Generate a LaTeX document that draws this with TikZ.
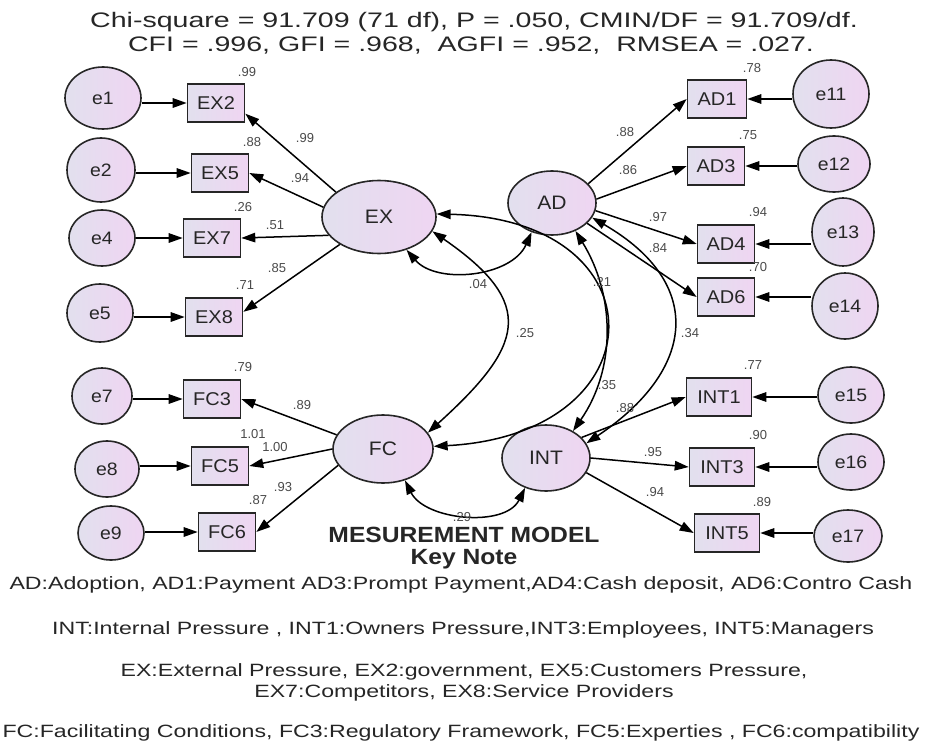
\documentclass[tikz,border=0pt]{standalone}
\usepackage{fontspec}
\usepackage{graphicx}
\setmainfont{Liberation Sans}
\newfontfamily\nodefont[FakeStretch=1.08]{Liberation Sans}
\newfontfamily\bigfont[FakeStretch=1.12]{Liberation Sans}
\newfontfamily\widefont[FakeStretch=1.3]{Liberation Sans}
\newfontfamily\titlefont[FakeStretch=1.36]{Liberation Sans}
\usetikzlibrary{arrows.meta,shapes.geometric}
\definecolor{fillL}{HTML}{E2E0EE}
\definecolor{fillR}{HTML}{EFD5F2}
\definecolor{numgray}{HTML}{4A4A4A}
\definecolor{txt}{HTML}{262626}
\begin{document}
\begin{tikzpicture}[x=1pt,y=-1pt,
  shaded/.style={draw=black!85, line width=1.6pt, left color=fillL, right color=fillR, inner sep=0pt, text=txt},
  lat/.style={shaded, ellipse, font=\nodefont\fontsize{19.5}{21}\selectfont},
  err/.style={shaded, ellipse, font=\nodefont\fontsize{18}{20}\selectfont},
  obs/.style={shaded, rectangle, minimum width=57pt, minimum height=38pt, font=\nodefont\fontsize{18.5}{20}\selectfont},
  num/.style={font=\fontsize{13}{14}\selectfont, text=numgray, inner sep=0pt},
  arr/.style={line width=1.5pt, -{Triangle[length=14pt,width=9.5pt]}},
  cov/.style={line width=1.5pt, {Triangle[length=14pt,width=9.5pt]}-{Triangle[length=14pt,width=9.5pt]}},
  ttl/.style={font=\titlefont\fontsize{21}{23}\selectfont, text=txt, inner sep=0pt},
  key/.style={font=\widefont\fontsize{17.8}{21}\selectfont, text=txt, inner sep=0pt, align=center},
  big/.style={font=\bigfont\bfseries\fontsize{22}{22.5}\selectfont, text=txt, inner sep=0pt, align=center}
]
\useasboundingbox (0,0) rectangle (925,749);
\fill[white] (0,0) rectangle (925,749);

% title
\node[ttl] (t1) at (474,22) {Chi-square = 91.709 (71 df), P = .050, CMIN/DF = 91.709/df.};
\node[ttl] (t2) at (471,46) {CFI = .996, GFI = .968,\ \ AGFI = .952,\ \ RMSEA = .027.};

% latent variables
\node[lat, minimum width=114pt, minimum height=73pt] (EX) at (379,217) {EX};
\node[lat, minimum width=88pt, minimum height=64pt] (AD) at (552,203) {AD};
\node[lat, minimum width=100pt, minimum height=68pt] (FC) at (383,449) {FC};
\node[lat, minimum width=88pt, minimum height=66pt] (INT) at (546,458) {INT};

% observed
\node[obs] (EX2) at (216,103) {EX2};
\node[obs] (EX5) at (220,173) {EX5};
\node[obs] (EX7) at (212,238) {EX7};
\node[obs] (EX8) at (214,317) {EX8};
\node[obs] (FC3) at (212,399) {FC3};
\node[obs] (FC5) at (220,466) {FC5};
\node[obs] (FC6) at (227,532) {FC6};
\node[obs, minimum width=59pt] (AD1) at (717,99) {AD1};
\node[obs] (AD3) at (716,166) {AD3};
\node[obs] (AD4) at (726,244) {AD4};
\node[obs] (AD6) at (726,297) {AD6};
\node[obs, minimum width=65pt] (INT1) at (719,397) {INT1};
\node[obs, minimum width=65pt] (INT3) at (722,467) {INT3};
\node[obs, minimum width=65pt] (INT5) at (727,533) {INT5};

% errors
\node[err, minimum width=76pt, minimum height=62pt] (e1) at (103,98) {e1};
\node[err, minimum width=68pt, minimum height=64pt] (e2) at (101,170) {e2};
\node[err, minimum width=66pt, minimum height=56pt] (e4) at (102,238) {e4};
\node[err, minimum width=66pt, minimum height=58pt] (e5) at (100,313) {e5};
\node[err, minimum width=60pt, minimum height=56pt] (e7) at (102,396) {e7};
\node[err, minimum width=64pt, minimum height=56pt] (e8) at (107,469) {e8};
\node[err, minimum width=66pt, minimum height=54pt] (e9) at (111,533) {e9};
\node[err, minimum width=76pt, minimum height=68pt] (e11) at (831,94) {e11};
\node[err, minimum width=72pt, minimum height=56pt] (e12) at (834,164) {e12};
\node[err, minimum width=62pt, minimum height=68pt] (e13) at (843,232) {e13};
\node[err, minimum width=66pt, minimum height=66pt] (e14) at (845,306) {e14};
\node[err, minimum width=66pt, minimum height=56pt] (e15) at (851,395) {e15};
\node[err, minimum width=66pt, minimum height=56pt] (e16) at (851,462) {e16};
\node[err, minimum width=68pt, minimum height=52pt] (e17) at (848,536) {e17};

% error arrows
\draw[arr] (e1.east |- EX2) -- (EX2);
\draw[arr] (e2.east |- EX5) -- (EX5);
\draw[arr] (e4.east |- EX7) -- (EX7);
\draw[arr] (e5.east |- EX8) -- (EX8);
\draw[arr] (e7.east |- FC3) -- (FC3);
\draw[arr] (e8.east |- FC5) -- (FC5);
\draw[arr] (e9.east |- FC6) -- (FC6);
\draw[arr] (e11.west |- AD1) -- (AD1);
\draw[arr] (e12.west |- AD3) -- (AD3);
\draw[arr] (e13.west |- AD4) -- (AD4);
\draw[arr] (e14.west |- AD6) -- (AD6);
\draw[arr] (e15.west |- INT1) -- (INT1);
\draw[arr] (e16.west |- INT3) -- (INT3);
\draw[arr] (e17.west |- INT5) -- (INT5);

% loadings
\draw[arr] (EX.150) -- (EX2.-20);
\draw[arr] (EX.170) -- (EX5.east);
\draw[arr] (EX.200) -- (EX7.east);
\draw[arr] (EX.215) -- (EX8.10);
\draw[arr] (FC.163) -- (FC3.east);
\draw[arr] (FC.180) -- (FC5.east);
\draw[arr] (FC.200) -- (FC6.east);
\draw[arr] (AD.28) -- (AD1.west);
\draw[arr] (AD.5) -- (AD3.west);
\draw[arr] (AD.-10) -- (AD4.west);
\draw[arr] (AD.-30) -- (AD6.west);
\draw[arr] (INT.30) -- (INT1.west);
\draw[arr] (INT.0) -- (INT3.west);
\draw[arr] (INT.-20) -- (INT5.west);

% covariances
\draw[cov] (EX.-50) .. controls +(30,35) and +(-20,45) .. (AD.-125);
\draw[cov] (EX.-15) .. controls +(106,73) and +(95,-86) .. (FC.20);
\draw[cov] (EX.3) .. controls +(227,5) and +(227,-12) .. (FC.3);
\draw[cov] (AD.-50) .. controls +(40,65) and +(43,-62) .. (INT.45);
\draw[cov] (AD.-20) .. controls +(114,66) and +(109,-73) .. (INT.20);
\draw[cov] (FC.-55) .. controls +(20,40) and +(-20,40) .. (INT.-125);

% loading values
\node[num] (l1) at (305,138) {.99};
\node[num] (l2) at (300,178) {.94};
\node[num] (l3) at (275,225) {.51};
\node[num] (l4) at (277,268) {.85};
\node[num] (r1) at (247,72) {.99};
\node[num] (r2) at (252,142) {.88};
\node[num] (r3) at (243,207) {.26};
\node[num] (r4) at (245,285) {.71};
\node[num] (r5) at (243,367) {.79};
\node[num] (l5) at (302,405) {.89};
\node[num] (r6) at (253,434) {1.01};
\node[num] (l6) at (275,447) {1.00};
\node[num] (l7) at (283,487) {.93};
\node[num] (r7) at (258,500) {.87};
\node[num] (r8) at (752,68) {.78};
\node[num] (l8) at (625,132) {.88};
\node[num] (r9) at (748,135) {.75};
\node[num] (l9) at (628,170) {.86};
\node[num] (l10) at (658,217) {.97};
\node[num] (r10) at (758,212) {.94};
\node[num] (l11) at (658,248) {.84};
\node[num] (r11) at (758,267) {.70};
\node[num] (r12) at (753,365) {.77};
\node[num] (l12) at (625,408) {.88};
\node[num] (r13) at (758,435) {.90};
\node[num] (l13) at (653,452) {.95};
\node[num] (l14) at (655,492) {.94};
\node[num] (r14) at (762,502) {.89};
\node[num] (c1) at (478,284) {.04};
\node[num] (c2) at (525,333) {.25};
\node[num] (c3) at (602,282) {.21};
\node[num] (c4) at (607,385) {.35};
\node[num] (c5) at (690,333) {.34};
\node[num] (c6) at (462,517) {.29};

% captions
\node[big] (mm) at (464,548) {MESUREMENT MODEL\\Key Note};
\node[key] (k1) at (461,585) {AD:Adoption, AD1:Payment AD3:Prompt Payment,AD4:Cash deposit, AD6:Contro Cash};
\node[key] (k2) at (463,630) {INT:Internal Pressure , INT1:Owners Pressure,INT3:Employees, INT5:Managers};
\node[key] (k3) at (464,682) {EX:External Pressure, EX2:government, EX5:Customers Pressure,\\EX7:Competitors, EX8:Service Providers};
\node[key] (k4) at (461,733) {FC:Facilitating Conditions, FC3:Regulatory Framework, FC5:Experties , FC6:compatibility};
\end{tikzpicture}
\end{document}
